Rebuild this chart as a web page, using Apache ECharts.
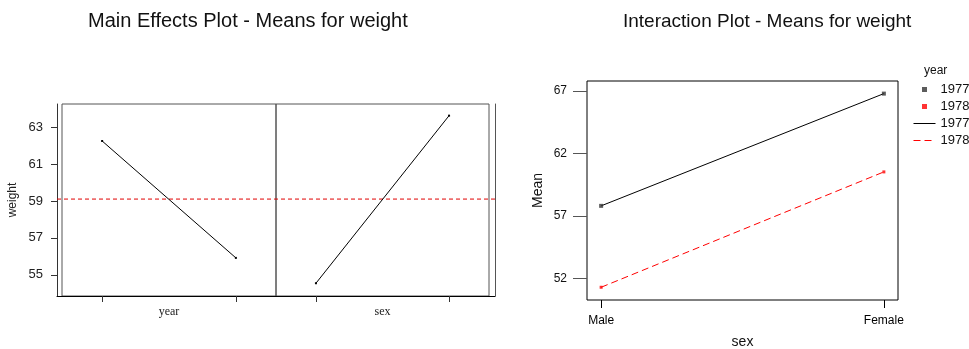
<!DOCTYPE html>
<html>
<head>
<meta charset="utf-8">
<script src="https://cdn.jsdelivr.net/npm/echarts@6/dist/echarts.min.js"></script>
<style>
  html, body { margin: 0; padding: 0; background: #fff; }
  #chart { width: 969px; height: 349px; }
</style>
</head>
<body>
<div id="chart"></div>
<script>
// main effects data
const yearLevels = ['1977', '1978'];
const yearMeans = [62.24, 55.92];
const sexLevels = ['Male', 'Female'];
const sexMeans = [54.55, 63.61];
const grandMean = 59.1;
const mainTicks = [55, 57, 59, 61, 63];

// interaction data (sex on x, one line per year)
const meanByYear1977 = [57.8, 66.79];
const meanByYear1978 = [51.28, 60.52];
const interTicks = [52, 57, 62, 67];

const font = 'Liberation Sans, Arial, sans-serif';
const serif = 'Liberation Serif, Times New Roman, serif';
const pts = arr => arr.map((v, i) => [i, v]);

// small square legend icon padded to the legend item width
const dotIcon = 'path://M0,2.5L0,2.5M22,2.5L22,2.5M8.5,0L13.5,0L13.5,5L8.5,5Z';

let mychart = echarts.init(document.getElementById('chart'), null, { renderer: 'canvas' });

// shared y range for the main effects panels
const mainY = { type: 'value', min: 53.86, max: 64.24, splitLine: { show: false } };

let options = {
  animation: false,
  backgroundColor: '#fff',
  title: [
    { text: 'Main Effects Plot - Means for weight', left: 83, top: 6,
      textStyle: { fontFamily: font, fontSize: 20, fontWeight: 'normal', color: '#111' } },
    { text: 'Interaction Plot - Means for weight', left: 618, top: 7,
      textStyle: { fontFamily: font, fontSize: 19, fontWeight: 'normal', color: '#111' } },
    { text: 'year', left: 919, top: 60,
      textStyle: { fontFamily: font, fontSize: 12, fontWeight: 'normal', color: '#111' } }
  ],
  legend: {
    orient: 'vertical',
    left: 913,
    top: 83,
    padding: 0,
    itemGap: 4,
    itemWidth: 22,
    itemHeight: 5,
    symbolKeepAspect: false,
    lineStyle: { width: 1 },
    data: [
      { name: '1977', icon: dotIcon },
      { name: '1978', icon: dotIcon },
      { name: '1977 ', itemStyle: { opacity: 0 } },
      { name: '1978 ', itemStyle: { opacity: 0 } }
    ],
    formatter: n => n.trim(),
    textStyle: { fontFamily: font, fontSize: 13, color: '#111' }
  },
  grid: [
    { left: 62, top: 104, width: 214, height: 192, show: true, borderColor: '#555', borderWidth: 1, outerBoundsMode: 'none' },
    { left: 276, top: 104, width: 213, height: 192, show: true, borderColor: '#555', borderWidth: 1, outerBoundsMode: 'none' },
    { left: 57, top: 104, width: 438, height: 192, outerBoundsMode: 'none' },
    { left: 587, top: 81, width: 311, height: 219, show: true, borderColor: '#000', borderWidth: 1, outerBoundsMode: 'none' }
  ],
  xAxis: [
    { gridIndex: 0, type: 'value', min: -0.3, max: 1.3, splitLine: { show: false },
      axisLine: { show: true, onZero: false, lineStyle: { color: '#000' } },
      axisTick: { show: true, length: 6, customValues: [0, 1], lineStyle: { color: '#333' } },
      axisLabel: { show: false },
      name: 'year', nameLocation: 'middle', nameGap: 10,
      nameTextStyle: { fontFamily: serif, fontSize: 12, color: '#222' } },
    { gridIndex: 1, type: 'value', min: -0.3, max: 1.3, splitLine: { show: false },
      axisLine: { show: true, onZero: false, lineStyle: { color: '#000' } },
      axisTick: { show: true, length: 6, customValues: [0, 1], lineStyle: { color: '#333' } },
      axisLabel: { show: false },
      name: 'sex', nameLocation: 'middle', nameGap: 10,
      nameTextStyle: { fontFamily: serif, fontSize: 12, color: '#222' } },
    // full-width baseline under both panels
    { gridIndex: 2, type: 'value', min: 0, max: 1, splitLine: { show: false },
      axisLine: { show: true, onZero: false, lineStyle: { color: '#000' } },
      axisTick: { show: false }, axisLabel: { show: false } },
    { gridIndex: 3, type: 'value', min: -0.05, max: 1.05, splitLine: { show: false },
      axisLine: { show: false, onZero: false },
      axisTick: { show: true, length: 8, customValues: [0, 1], lineStyle: { color: '#000' } },
      axisLabel: { show: true, customValues: [0, 1], margin: 15, formatter: v => sexLevels[v],
        fontFamily: font, fontSize: 12, color: '#000' },
      name: 'sex', nameLocation: 'middle', nameGap: 35,
      nameTextStyle: { fontFamily: font, fontSize: 14, color: '#111' } }
  ],
  yAxis: [
    Object.assign({}, mainY, { gridIndex: 0, offset: 5,
      axisLine: { show: true, onZero: false, lineStyle: { color: '#333' } },
      axisTick: { show: true, length: 6, customValues: mainTicks, lineStyle: { color: '#333' } },
      axisLabel: { show: true, customValues: mainTicks, margin: 14, fontFamily: font, fontSize: 13, color: '#222' },
      name: 'weight', nameLocation: 'middle', nameGap: 38,
      nameTextStyle: { fontFamily: font, fontSize: 12, color: '#222' } }),
    Object.assign({}, mainY, { gridIndex: 1, show: false }),
    Object.assign({}, mainY, { gridIndex: 1, position: 'right', offset: 6,
      axisLine: { show: true, onZero: false, lineStyle: { color: '#555' } },
      axisTick: { show: false }, axisLabel: { show: false } }),
    Object.assign({}, mainY, { gridIndex: 2, show: false }),
    { gridIndex: 3, type: 'value', min: 50.26, max: 67.8, splitLine: { show: false },
      axisLine: { show: false, onZero: false },
      axisTick: { show: true, length: 14, customValues: interTicks, lineStyle: { color: '#555' } },
      axisLabel: { show: true, customValues: interTicks, margin: 20, fontFamily: font, fontSize: 12, color: '#111' },
      name: 'Mean', nameLocation: 'middle', nameGap: 42,
      nameTextStyle: { fontFamily: font, fontSize: 14, color: '#111' } }
  ],
  series: [
    // main effects: year
    { name: 'year', type: 'line', xAxisIndex: 0, yAxisIndex: 0, data: pts(yearMeans),
      symbol: 'rect', symbolSize: 2, itemStyle: { color: '#000' },
      lineStyle: { color: '#000', width: 1 } },
    // main effects: sex
    { name: 'sex', type: 'line', xAxisIndex: 1, yAxisIndex: 1, data: pts(sexMeans),
      symbol: 'rect', symbolSize: 2, itemStyle: { color: '#000' },
      lineStyle: { color: '#000', width: 1 } },
    // grand mean reference line across both panels
    { name: 'mean', type: 'line', xAxisIndex: 2, yAxisIndex: 3,
      data: [[0, grandMean], [1, grandMean]], symbol: 'none', z: 1,
      itemStyle: { color: '#e00000' },
      lineStyle: { color: '#e00000', type: [4, 3], width: 1 } },
    // interaction points
    { name: '1977', type: 'scatter', xAxisIndex: 3, yAxisIndex: 4, data: pts(meanByYear1977),
      symbol: 'rect', symbolSize: 4, itemStyle: { color: '#333' }, z: 5 },
    { name: '1978', type: 'scatter', xAxisIndex: 3, yAxisIndex: 4, data: pts(meanByYear1978),
      symbol: 'rect', symbolSize: 3, itemStyle: { color: '#ff0000' }, z: 5 },
    // interaction lines
    { name: '1977 ', type: 'line', xAxisIndex: 3, yAxisIndex: 4, data: pts(meanByYear1977),
      symbol: 'none', itemStyle: { color: '#000' }, lineStyle: { color: '#000', width: 1 } },
    { name: '1978 ', type: 'line', xAxisIndex: 3, yAxisIndex: 4, data: pts(meanByYear1978),
      symbol: 'none', itemStyle: { color: '#ff0000' },
      lineStyle: { color: '#ff0000', width: 1, type: [7, 4] } }
  ]
};
mychart.setOption(options);
</script>
</body>
</html>
